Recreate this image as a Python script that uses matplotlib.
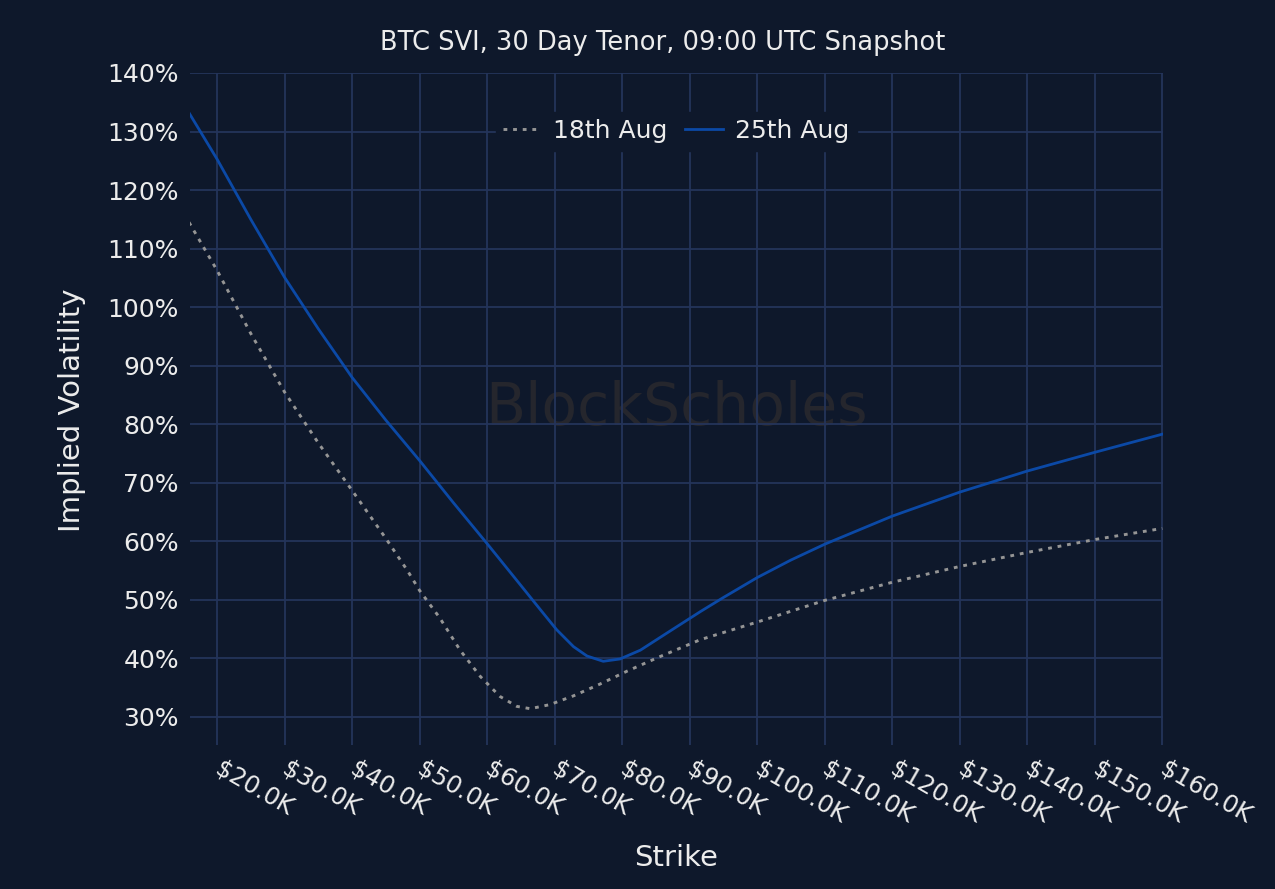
import matplotlib
matplotlib.use("Agg")
import matplotlib.pyplot as plt
from matplotlib.ticker import FuncFormatter

# ---- data (strike in $K, implied vol in %) ----
strike_18 = [15.85, 20, 25, 30, 35, 40, 45, 48.2, 50, 53.0, 56.0, 59.0, 61.9, 64.4,
             66.4, 69.3, 72.8, 76.7, 80.7, 85.6, 91.6, 100, 110, 120, 130, 140, 150, 160]
iv_18 = [114.5, 106.3, 95.5, 85.5, 76.8, 68.7, 60.5, 55.0, 51.6, 46.9, 41.4, 36.9, 33.5, 31.8,
         31.4, 32.1, 33.6, 35.6, 37.8, 40.3, 43.2, 46.2, 49.9, 53.0, 55.7, 58.1, 60.3, 62.2]

strike_25 = [15.85, 20, 25, 30, 35, 40, 45, 50, 55, 60, 64.9, 67.9, 70.3, 72.8, 74.8,
             77.2, 79.7, 82.7, 86.6, 91.6, 95, 100, 105, 110, 120, 130, 140, 150, 160]
iv_25 = [133.2, 125.3, 115.0, 105.1, 96.3, 88.0, 80.7, 73.8, 66.6, 59.6, 52.6, 48.3, 44.9, 42.0, 40.4,
         39.5, 39.9, 41.4, 44.3, 48.0, 50.4, 53.8, 56.8, 59.5, 64.3, 68.4, 72.0, 75.2, 78.3]

x_ticks = [20, 30, 40, 50, 60, 70, 80, 90, 100, 110, 120, 130, 140, 150, 160]
y_ticks = [30, 40, 50, 60, 70, 80, 90, 100, 110, 120, 130, 140]

title = "BTC SVI, 30 Day Tenor, 09:00 UTC Snapshot"
label_18 = "18th Aug"
label_25 = "25th Aug"

# ---- style ----
BG = "#0e182b"
GRID = "#24345a"
BLUE = "#0b49a6"
GREY = "#959595"
TXT = "#ececec"

plt.rcParams['font.family'] = ['DejaVu Sans']

fig = plt.figure(figsize=(12.75, 8.89), dpi=100, facecolor=BG)
ax = fig.add_axes([190/1275, 1-745/889, (1163-190)/1275, (745-73)/889])
ax.set_facecolor(BG)

ax.set_xlim(16.0, 160.1)
ax.set_ylim(25.2, 140)

ax.set_xticks(x_ticks)
ax.set_yticks(y_ticks)
ax.xaxis.set_major_formatter(FuncFormatter(lambda v, p: f"${v:.1f}K"))
ax.yaxis.set_major_formatter(FuncFormatter(lambda v, p: f"{v:.0f}%"))
ax.grid(True, color=GRID, linewidth=1.3)
ax.set_axisbelow(True)
for s in ax.spines.values():
    s.set_visible(False)
ax.tick_params(axis='both', length=0, colors=TXT)
ax.tick_params(axis='y', labelsize=18, pad=8)
ax.tick_params(axis='x', labelsize=17.5, pad=16)
for lab in ax.get_xticklabels():
    lab.set_rotation(-30)
    lab.set_ha('left')
    lab.set_va('center')
    lab.set_rotation_mode('anchor')

# watermark
ax.text(0.5, 0.5, "BlockScholes", transform=ax.transAxes, ha='center', va='center',
        fontsize=42, color='#25262d', zorder=0.5)

ax.plot(strike_18, iv_18, color=GREY, linewidth=2.1, linestyle=(0, (1.3, 2.0)),
        label=label_18, zorder=3)
ax.plot(strike_25, iv_25, color=BLUE, linewidth=2.0, label=label_25, zorder=3)

leg = ax.legend(loc='center', bbox_to_anchor=(0.5, 1-(131-73)/672), ncol=2,
                frameon=True, fontsize=18, handlelength=1.5, handletextpad=0.5,
                columnspacing=0.7, borderpad=0.3, borderaxespad=0)
leg.get_frame().set_facecolor(BG)
leg.get_frame().set_edgecolor(BG)
leg.get_frame().set_alpha(1.0)
for t in leg.get_texts():
    t.set_color(TXT)

fig.text(663/1275, 1-43/889, title, ha='center', va='center', fontsize=18.5, color=TXT)
fig.text(676/1275, 1-858/889, "Strike", ha='center', va='center', fontsize=21, color=TXT)
fig.text(72/1275, 1-410/889, "Implied Volatility", ha='center', va='center', fontsize=21,
         color=TXT, rotation=90)

fig.savefig("out.png", dpi=100, facecolor=BG)
